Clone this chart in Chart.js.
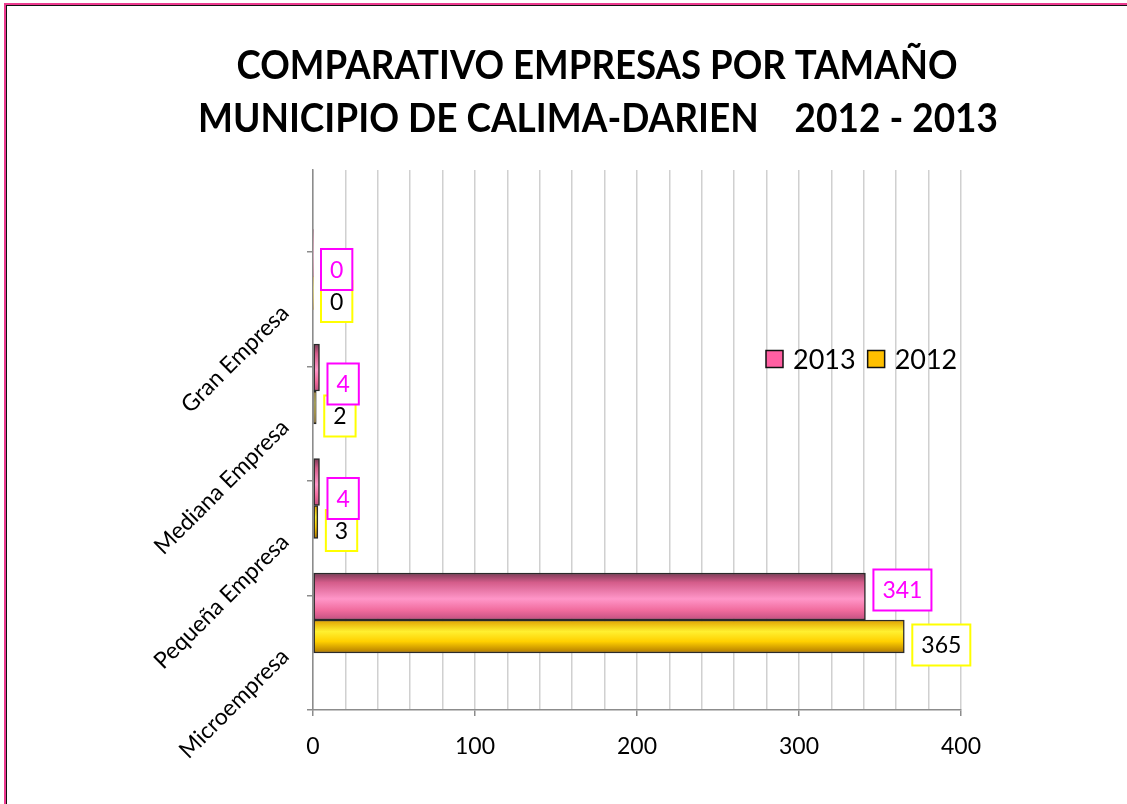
<!DOCTYPE html>
<html>
<head>
<meta charset="utf-8">
<script src="https://cdn.jsdelivr.net/npm/chart.js@4"></script>
<style>
  html, body { margin: 0; padding: 0; background: #fff; overflow: hidden; }
  #frame {
    position: absolute; left: 4px; top: 3px; width: 1200px; height: 900px;
    border-left: 2px solid #ec3a8f; border-top: 2px solid #ec3a8f;
  }
  #frameInner {
    position: absolute; left: 0; top: 0; right: 0; bottom: 0;
    border-left: 1px solid #111; border-top: 1px solid #111;
  }
  #wrap { position: absolute; left: 0; top: 0; width: 1127px; height: 804px; }
</style>
</head>
<body>
<div id="frame"><div id="frameInner"></div></div>
<div id="wrap"><canvas id="chart"></canvas></div>
<script>
// data, bottom to top
const categories = ["Microempresa", "Pequeña Empresa", "Mediana Empresa", "Gran Empresa"];
const values2013 = [341, 4, 4, 0];
const values2012 = [365, 3, 2, 0];
const seriesNames = ["2013", "2012"];
const xTicks = [0, 100, 200, 300, 400];
const titleLines = ["COMPARATIVO EMPRESAS POR TAMAÑO", "MUNICIPIO DE CALIMA-DARIEN    2012 - 2013"];

const PINK_BAR = 47;
const YELLOW_BAR = 33;
const FONT = "Lato, 'Open Sans', sans-serif";

function barPixel(c) {
  if (c.type !== "data" || !c.parsed || !c.chart.scales.y) return NaN;
  return c.chart.scales.y.getPixelForValue(c.parsed.y);
}

function pinkFill(c) {
  const p = barPixel(c);
  if (!isFinite(p)) return "#ff6fa8";
  const g = c.chart.ctx.createLinearGradient(0, p - PINK_BAR, 0, p);
  g.addColorStop(0, "#7a3a55");
  g.addColorStop(0.2, "#d45c8a");
  g.addColorStop(0.55, "#ff96c8");
  g.addColorStop(0.8, "#f06a9c");
  g.addColorStop(1, "#c25080");
  return g;
}

function yellowFill(c) {
  const p = barPixel(c);
  if (!isFinite(p)) return "#ffc000";
  const g = c.chart.ctx.createLinearGradient(0, p, 0, p + YELLOW_BAR);
  g.addColorStop(0, "#e0a000");
  g.addColorStop(0.35, "#fff030");
  g.addColorStop(0.65, "#ffd000");
  g.addColorStop(1, "#b07800");
  return g;
}

// ── title, value boxes, legend ───────────────────────────────────────────────
const decorations = {
  id: "decorations",
  beforeDraw(chart) {
    const ctx = chart.ctx;
    ctx.save();
    ctx.fillStyle = "#000";
    ctx.textBaseline = "middle";
    ctx.textAlign = "center";
    ctx.font = "bold 41px " + FONT;
    ctx.fillText(titleLines[0], 597, 66, 721);
    ctx.fillText(titleLines[1], 598, 119, 800);
    ctx.restore();
  },
  afterDatasetsDraw(chart) {
    const ctx = chart.ctx;
    ctx.save();
    ctx.font = "23px " + FONT;
    ctx.textAlign = "center";
    ctx.textBaseline = "middle";
    const pinkBars = chart.getDatasetMeta(0).data;
    const yellowBars = chart.getDatasetMeta(1).data;

    categories.forEach((cat, i) => {
      const pb = pinkBars[i], yb = yellowBars[i];
      const pText = String(values2013[i]), yText = String(values2012[i]);
      const pw = ctx.measureText(pText).width + 18;
      const yw = ctx.measureText(yText).width + 18;
      const h = 41;
      const yLeft = yb.x + 8, yCy = yb.y + 8.5;
      const pLeft = pb.x + 8;
      let pCy = pb.y + 16.5;
      if (pLeft + pw > yLeft && Math.abs(pLeft - yLeft) > 10) pCy = pb.y - 6.5;

      ctx.lineWidth = 2;
      ctx.fillStyle = "#fff";
      ctx.strokeStyle = "#ffff00";
      ctx.fillRect(yLeft, yCy - h / 2, yw, h);
      ctx.strokeRect(yLeft, yCy - h / 2, yw, h);
      ctx.fillStyle = "#000";
      ctx.fillText(yText, yLeft + yw / 2, yCy + 1);

      ctx.fillStyle = "#fff";
      ctx.strokeStyle = "#ff00ff";
      ctx.fillRect(pLeft, pCy - h / 2, pw, h);
      ctx.strokeRect(pLeft, pCy - h / 2, pw, h);
      ctx.fillStyle = "#ff00ff";
      ctx.fillText(pText, pLeft + pw / 2, pCy + 1);
    });
    ctx.restore();
  },
  afterDraw(chart) {
    const ctx = chart.ctx;
    const area = chart.chartArea;
    ctx.save();
    ctx.font = "27px " + FONT;
    ctx.textBaseline = "middle";
    ctx.textAlign = "left";
    const legendColors = ["#ff5fa2", "#ffc000"];
    let x = area.left + 453;
    const cy = area.top + 189;
    seriesNames.forEach((name, i) => {
      ctx.fillStyle = legendColors[i];
      ctx.fillRect(x, cy - 8.5, 17, 17);
      ctx.strokeStyle = "#111";
      ctx.lineWidth = 1.5;
      ctx.strokeRect(x, cy - 8.5, 17, 17);
      ctx.fillStyle = "#000";
      ctx.fillText(name, x + 27, cy + 1);
      x += 27 + ctx.measureText(name).width + 12;
    });
    ctx.restore();
  }
};

new Chart(document.getElementById("chart"), {
  type: "bar",
  data: {
    datasets: [
      {
        label: seriesNames[0],
        data: categories.map((c, i) => ({ x: values2013[i], y: i })),
        backgroundColor: pinkFill,
        borderColor: "#2a2a2a",
        borderWidth: c => (c.raw && c.raw.x === 0 ? 0 : 1.5),
        borderSkipped: false,
        barThickness: PINK_BAR
      },
      {
        label: seriesNames[1],
        data: categories.map((c, i) => ({ x: values2012[i], y: i })),
        backgroundColor: yellowFill,
        borderColor: "#2a2a2a",
        borderWidth: c => (c.raw && c.raw.x === 0 ? 0 : 1.5),
        borderSkipped: false,
        barThickness: YELLOW_BAR
      }
    ]
  },
  options: {
    indexAxis: "y",
    responsive: true,
    maintainAspectRatio: false,
    animation: false,
    events: [],
    layout: { padding: { left: 133, right: 166, top: 170, bottom: 0 } },
    plugins: {
      legend: { display: false },
      tooltip: { enabled: false },
      title: { display: false }
    },
    scales: {
      x: {
        type: "linear",
        min: 0,
        max: 400,
        afterBuildTicks: scale => {
          const t = [];
          for (let v = 0; v <= 400; v += 20) t.push({ value: v });
          scale.ticks = t;
        },
        afterFit: scale => { scale.height = 94; },
        grid: {
          color: "#d0d0d0",
          lineWidth: 1.5,
          tickColor: c => (c.tick && xTicks.includes(c.tick.value) ? "#8c8c8c" : "rgba(0,0,0,0)"),
          tickLength: 6
        },
        border: { color: "#8c8c8c", width: 1.5 },
        ticks: {
          autoSkip: false,
          maxRotation: 0,
          color: "#000",
          padding: 17,
          font: { family: FONT, size: 23 },
          callback: v => (xTicks.includes(v) ? String(v) : "")
        }
      },
      y: {
        type: "linear",
        min: -0.786,
        max: 3.93,
        offset: false,
        afterBuildTicks: scale => {
          scale.ticks = categories.map((c, i) => ({ value: i - 0.285 }));
        },
        afterFit: scale => { scale.width = 180; },
        grid: {
          offset: true,
          drawOnChartArea: false,
          color: "#8c8c8c",
          lineWidth: 1.5,
          tickLength: 6
        },
        border: { color: "#8c8c8c", width: 1.5 },
        ticks: {
          autoSkip: false,
          minRotation: 45,
          maxRotation: 45,
          padding: 22,
          color: "#000",
          font: { family: FONT, size: 23 },
          callback: (v, i) => categories[i]
        }
      }
    }
  },
  plugins: [decorations]
});
</script>
</body>
</html>
